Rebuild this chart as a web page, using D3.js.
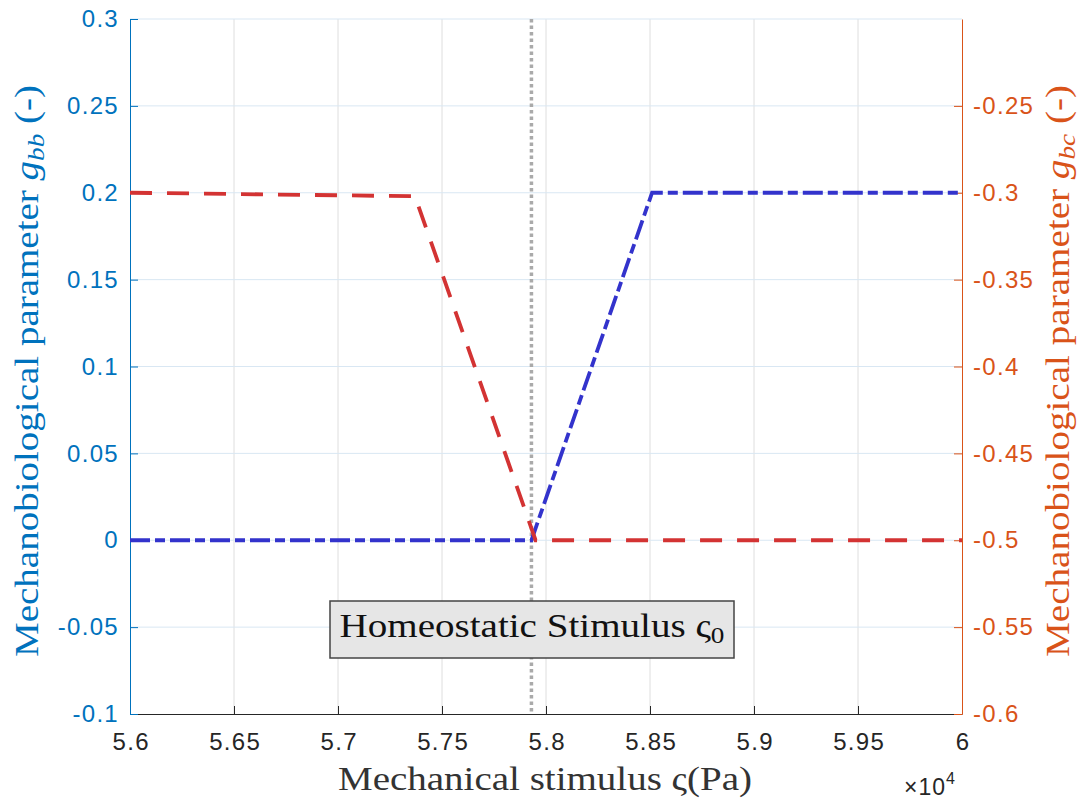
<!DOCTYPE html>
<html><head><meta charset="utf-8">
<script src="https://cdn.jsdelivr.net/npm/d3@7"></script>
<style>body{margin:0;background:#fff;} svg{display:block;}</style>
</head><body>
<svg id="c" width="1080" height="800"></svg>
<script>
// data
const xTicks = [56000,56500,57000,57500,58000,58500,59000,59500,60000];
const xTickLabels = ["5.6","5.65","5.7","5.75","5.8","5.85","5.9","5.95","6"];
const leftTicks = [-0.1,-0.05,0,0.05,0.1,0.15,0.2,0.25,0.3];
const leftTickLabels = ["-0.1","-0.05","0","0.05","0.1","0.15","0.2","0.25","0.3"];
const rightTicks = [-0.6,-0.55,-0.5,-0.45,-0.4,-0.35,-0.3,-0.25];
const rightTickLabels = ["-0.6","-0.55","-0.5","-0.45","-0.4","-0.35","-0.3","-0.25"];
const gbbX = [56000,57930,58510,60000];
const gbbY = [0,0,0.2,0.2];
const gbcX = [56000,57370,57950,60000];
const gbcY = [-0.3,-0.302,-0.5,-0.5];
const homeostatic = 57930;

const svg = d3.select("#c");
const L=130,R=962,T=19,B=714;
const x = d3.scaleLinear().domain([56000,60000]).range([L,R]);
const yL = d3.scaleLinear().domain([-0.1,0.3]).range([B,T]);
const yR = d3.scaleLinear().domain([-0.6,-0.2]).range([B,T]);
const blueAx="#0072BD", orangeAx="#D95319", grayAx="#262626";
const sans="'Liberation Sans', Arial, sans-serif";
const serif="'Liberation Serif','DejaVu Serif',serif";
const tickFs = 24, tickLs = 1.3;

// grid
svg.append("g").selectAll("line").data(xTicks.slice(1,-1)).join("line")
  .attr("x1",d=>x(d)).attr("x2",d=>x(d)).attr("y1",T).attr("y2",B)
  .attr("stroke","#dedede").attr("stroke-width",1);
svg.append("g").selectAll("line").data(leftTicks.slice(1)).join("line")
  .attr("x1",L).attr("x2",R).attr("y1",d=>yL(d)).attr("y2",d=>yL(d))
  .attr("stroke","#d9e7f3").attr("stroke-width",1);

function styleTicks(g, color){
  g.select(".domain").attr("stroke",color);
  g.selectAll(".tick line").attr("stroke",color);
  g.selectAll("text").attr("fill",color).attr("font-family",sans)
    .style("font-size",tickFs+"px").style("letter-spacing",tickLs+"px");
}

// axes
const xAxis = d3.axisBottom(x).tickValues(xTicks).tickFormat((d,i)=>xTickLabels[i]).tickSizeInner(-8).tickSizeOuter(0).tickPadding(19);
const gx = svg.append("g").attr("transform",`translate(0,${B})`).call(xAxis);
styleTicks(gx, grayAx);
gx.selectAll("text").attr("dx", tickLs/2);

const lAxis = d3.axisLeft(yL).tickValues(leftTicks).tickFormat((d,i)=>leftTickLabels[i]).tickSizeInner(-8).tickSizeOuter(0).tickPadding(11);
const gl = svg.append("g").attr("transform",`translate(${L},0)`).call(lAxis);
styleTicks(gl, blueAx);

const rAxis = d3.axisRight(yR).tickValues(rightTicks).tickFormat((d,i)=>rightTickLabels[i]).tickSizeInner(-8).tickSizeOuter(0).tickPadding(11);
const gr = svg.append("g").attr("transform",`translate(${R},0)`).call(rAxis);
styleTicks(gr, orangeAx);

// homeostatic line
svg.append("line").attr("x1",x(homeostatic)).attr("x2",x(homeostatic)).attr("y1",T).attr("y2",B)
  .attr("stroke","#aaaaaa").attr("stroke-width",3.5).attr("stroke-dasharray","3.5,3");

// series
const blueLine = d3.line().x(d=>x(d[0])).y(d=>yL(d[1]));
svg.append("path").datum(gbbX.map((v,i)=>[v,gbbY[i]])).attr("d",blueLine)
  .attr("fill","none").attr("stroke","#3333cc").attr("stroke-width",3.8)
  .attr("stroke-dasharray","20,5,10,5");
const redLine = d3.line().x(d=>x(d[0])).y(d=>yR(d[1]));
svg.append("path").datum(gbcX.map((v,i)=>[v,gbcY[i]])).attr("d",redLine)
  .attr("fill","none").attr("stroke","#d33333").attr("stroke-width",3.8)
  .attr("stroke-dasharray","22,15");

// annotation box
const bx=330,by=601,bw=404,bh=57;
svg.append("rect").attr("x",bx).attr("y",by).attr("width",bw).attr("height",bh)
  .attr("fill","#e6e6e6").attr("stroke","#444").attr("stroke-width",1.5);
const at = svg.append("text").attr("x",bx+bw/2).attr("y",637).attr("text-anchor","middle")
  .attr("font-family",serif).attr("font-size",33).attr("fill","#111")
  .attr("textLength",385).attr("lengthAdjust","spacingAndGlyphs");
at.append("tspan").text("Homeostatic Stimulus ς");
at.append("tspan").attr("font-size",23).attr("dy",6).text("0");

// axis labels
function yLabel(xpos, sub, color){
  const t = svg.append("text").attr("transform",`translate(${xpos},371) rotate(-90)`).attr("text-anchor","middle")
    .attr("font-family",serif).attr("font-size",33).attr("fill",color)
    .attr("textLength",572).attr("lengthAdjust","spacingAndGlyphs");
  t.append("tspan").text("Mechanobiological parameter ");
  t.append("tspan").attr("font-style","italic").text("g");
  t.append("tspan").attr("font-style","italic").attr("font-size",23).attr("dy",6).text(sub);
  t.append("tspan").attr("dy",-6).text(" (-)");
}
yLabel(38,"bb",blueAx);
yLabel(1069,"bc",orangeAx);

svg.append("text").attr("x",545).attr("y",790).attr("text-anchor","middle")
  .attr("font-family",serif).attr("font-size",33).attr("fill","#333")
  .attr("textLength",414).attr("lengthAdjust","spacingAndGlyphs")
  .text("Mechanical stimulus ς(Pa)");

const ex = svg.append("text").attr("x",904).attr("y",795).attr("font-family",sans)
  .style("font-size","23px").style("letter-spacing","1px").attr("fill",grayAx);
ex.append("tspan").text("×10");
ex.append("tspan").style("font-size","16px").attr("dy",-11).text("4");
</script>
</body></html>
